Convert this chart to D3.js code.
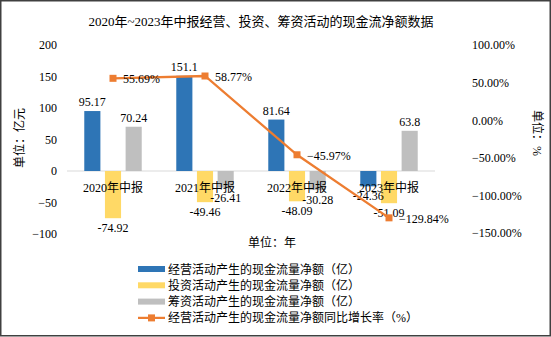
<!DOCTYPE html>
<html>
<head>
<meta charset="utf-8">
<script src="https://cdn.jsdelivr.net/npm/d3@7"></script>
<style>
  body { margin: 0; background: #fff; }
  text { font-family: "Liberation Serif", "Noto Sans CJK SC", serif; fill: #000; }
</style>
</head>
<body>
<div id="chart"></div>
<script>
const width = 551;
const height = 337;

const categories = ['2020年中报', '2021年中报', '2022年中报', '2023年中报'];
const seriesNames = ['经营活动产生的现金流量净额（亿）', '投资活动产生的现金流量净额（亿）', '筹资活动产生的现金流量净额（亿）'];
const operating = [95.17, 151.1, 81.64, -24.36];
const investing = [-74.92, -49.46, -48.09, -51.09];
const financing = [70.24, -26.41, -30.28, 63.8];
const growthName = '经营活动产生的现金流量净额同比增长率（%）';
const growth = [55.69, 58.77, -45.97, -129.84];
const leftTicks = [-100, -50, 0, 50, 100, 150, 200];
const rightTicks = [-150, -100, -50, 0, 50, 100];
const colors = ['#2E75B6', '#FFD966', '#BFBFBF'];
const lineColor = '#ED7D31';

const seriesValues = [operating, investing, financing];

const svg = d3.select('#chart')
    .append('svg')
    .attr('width', width)
    .attr('height', height);

svg.append('rect')
    .attr('x', 0.75).attr('y', 0.75)
    .attr('width', width - 1.5).attr('height', height - 2)
    .attr('fill', '#fff')
    .attr('stroke', '#404040')
    .attr('stroke-width', 1.5);

// title
svg.append('text')
    .attr('x', 261).attr('y', 26)
    .attr('text-anchor', 'middle')
    .style('font-size', '13px')
    .text('2020年~2023年中报经营、投资、筹资活动的现金流净额数据');

const xScale = d3.scaleBand()
    .domain(categories)
    .range([67, 435]);

const sScale = d3.scaleBand()
    .domain(d3.range(3))
    .range([-31, 31])
    .paddingInner(0.22)
    .paddingOuter(0.11);

const yScale = d3.scaleLinear()
    .domain([-100, 200])
    .range([234, 45]);

const rScale = d3.scaleLinear()
    .domain([-150, 100])
    .range([233, 45]);

// zero line
svg.append('line')
    .attr('x1', 67).attr('x2', 435)
    .attr('y1', yScale(0)).attr('y2', yScale(0))
    .attr('stroke', '#D9D9D9')
    .attr('stroke-width', 1);

// left axis
const yAxis = d3.axisLeft(yScale)
    .tickValues(leftTicks)
    .tickSize(0)
    .tickPadding(10);
const yAxisG = svg.append('g')
    .attr('transform', 'translate(67,0)')
    .call(yAxis);
yAxisG.select('.domain').remove();
yAxisG.selectAll('text')
    .style('font-size', '12px')
    .style('font-family', '"Liberation Serif", serif')
    .attr('fill', '#000');

// right axis
const rAxis = d3.axisRight(rScale)
    .tickValues(rightTicks)
    .tickSize(0)
    .tickPadding(10)
    .tickFormat(function (d) { return d3.format('.2f')(d) + '%'; });
const rAxisG = svg.append('g')
    .attr('transform', 'translate(462,0)')
    .call(rAxis);
rAxisG.select('.domain').remove();
rAxisG.selectAll('text')
    .style('font-size', '12px')
    .style('font-family', '"Liberation Serif", serif')
    .attr('fill', '#000');

// axis titles
svg.append('text')
    .attr('transform', 'translate(24,138) rotate(-90)')
    .attr('text-anchor', 'middle')
    .style('font-size', '12px')
    .text('单位：亿元');
svg.append('text')
    .attr('transform', 'translate(533,133) rotate(90)')
    .attr('text-anchor', 'middle')
    .style('font-size', '12px')
    .text('单位：%');
svg.append('text')
    .attr('x', 272).attr('y', 247)
    .attr('text-anchor', 'middle')
    .style('font-size', '12px')
    .text('单位：年');

// bars
seriesValues.forEach(function (vals, si) {
    const g = svg.append('g');
    g.selectAll('rect')
        .data(vals)
        .enter()
        .append('rect')
        .attr('x', function (d, i) { return xScale(categories[i]) + xScale.bandwidth() / 2 + sScale(si); })
        .attr('y', function (d) { return yScale(Math.max(0, d)); })
        .attr('width', sScale.bandwidth())
        .attr('height', function (d) { return Math.abs(yScale(d) - yScale(0)); })
        .attr('fill', colors[si]);
});

// category labels
svg.append('g')
    .selectAll('text')
    .data(categories)
    .enter()
    .append('text')
    .attr('x', function (d) { return xScale(d) + xScale.bandwidth() / 2; })
    .attr('y', 192)
    .attr('text-anchor', 'middle')
    .style('font-size', '12px')
    .text(function (d) { return d; });

// bar value labels
seriesValues.forEach(function (vals, si) {
    svg.append('g')
        .selectAll('text')
        .data(vals)
        .enter()
        .append('text')
        .attr('x', function (d, i) { return xScale(categories[i]) + xScale.bandwidth() / 2 + sScale(si) + sScale.bandwidth() / 2; })
        .attr('y', function (d) { return d >= 0 ? yScale(d) - 5 : yScale(d) + 14; })
        .attr('text-anchor', 'middle')
        .style('font-size', '12px')
        .text(function (d) { return d; });
});

// growth line
const line = d3.line()
    .x(function (d, i) { return xScale(categories[i]) + xScale.bandwidth() / 2; })
    .y(function (d) { return rScale(d); });

svg.append('path')
    .datum(growth)
    .attr('d', line)
    .attr('fill', 'none')
    .attr('stroke', lineColor)
    .attr('stroke-width', 2.25);

svg.append('g')
    .selectAll('rect')
    .data(growth)
    .enter()
    .append('rect')
    .attr('x', function (d, i) { return xScale(categories[i]) + xScale.bandwidth() / 2 - 3.5; })
    .attr('y', function (d) { return rScale(d) - 3.5; })
    .attr('width', 7)
    .attr('height', 7)
    .attr('fill', lineColor);

svg.append('g')
    .selectAll('text')
    .data(growth)
    .enter()
    .append('text')
    .attr('x', function (d, i) { return xScale(categories[i]) + xScale.bandwidth() / 2 + 10; })
    .attr('y', function (d) { return rScale(d) + 5; })
    .style('font-size', '12px')
    .text(function (d) { return d3.format('.2f')(d) + '%'; });

// legend
const legendRows = seriesNames.concat([growthName]);
const legend = svg.append('g');
legendRows.forEach(function (name, i) {
    const y = 269 + i * 16.3;
    if (i < 3) {
        legend.append('rect')
            .attr('x', 138).attr('y', y - 3)
            .attr('width', 27).attr('height', 6)
            .attr('fill', colors[i]);
    } else {
        legend.append('line')
            .attr('x1', 138).attr('x2', 165)
            .attr('y1', y).attr('y2', y)
            .attr('stroke', lineColor)
            .attr('stroke-width', 2.25);
        legend.append('rect')
            .attr('x', 148).attr('y', y - 3.5)
            .attr('width', 7).attr('height', 7)
            .attr('fill', lineColor);
    }
    legend.append('text')
        .attr('x', 168).attr('y', y + 4.5)
        .style('font-size', '12px')
        .text(name);
});
</script>
</body>
</html>
